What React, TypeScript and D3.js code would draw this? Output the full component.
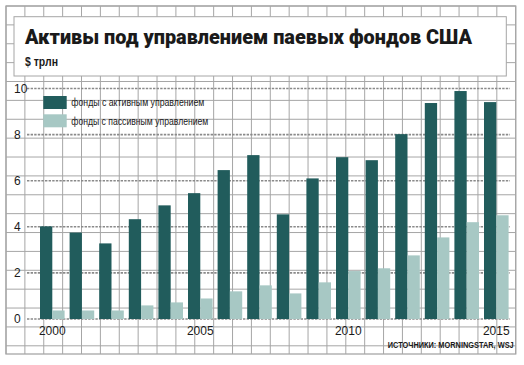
import React, { useEffect, useRef } from "react";
import * as d3 from "d3";

const years = ["2000", "2001", "2002", "2003", "2004", "2005", "2006", "2007", "2008", "2009", "2010", "2011", "2012", "2013", "2014", "2015"];
const activeValues = [4.02, 3.75, 3.28, 4.33, 4.93, 5.46, 6.46, 7.11, 4.54, 6.1, 7.02, 6.89, 8.02, 9.37, 9.89, 9.41];
const passiveValues = [0.37, 0.37, 0.37, 0.59, 0.72, 0.89, 1.2, 1.46, 1.11, 1.59, 2.08, 2.2, 2.76, 3.54, 4.2, 4.5];
const seriesNames = ["фонды с активным управлением", "фонды с пассивным управлением"];
const yTicks = [0, 2, 4, 6, 8, 10];
const xTicks = ["2000", "2005", "2010", "2015"];

const W = 524;
const H = 365;
const activeColor = "#215c5c";
const passiveColor = "#a7c8c4";
const gridColor = "#a6a6a6";
const narrow = "'Liberation Sans Narrow', 'Arial Narrow', 'Liberation Sans', sans-serif";

export default function App() {
  const ref = useRef<SVGSVGElement>(null);

  useEffect(() => {
    const svg = d3.select(ref.current);
    svg.selectAll("*").remove();

    // graph paper background
    const frame = { x0: 6, y0: 6, x1: 515.7, y1: 354 };
    const cell = (frame.x1 - frame.x0) / 27;
    const bg = svg.append("g").attr("stroke", gridColor).attr("stroke-width", 1);
    bg.selectAll("line.v")
      .data(d3.range(0, 28))
      .join("line")
      .attr("class", "v")
      .attr("x1", (k) => frame.x0 + k * cell)
      .attr("x2", (k) => frame.x0 + k * cell)
      .attr("y1", frame.y0)
      .attr("y2", frame.y1);
    bg.selectAll("line.h")
      .data(d3.range(0, 19))
      .join("line")
      .attr("class", "h")
      .attr("x1", frame.x0)
      .attr("x2", frame.x1)
      .attr("y1", (k) => frame.y0 + k * cell)
      .attr("y2", (k) => frame.y0 + k * cell);
    bg.append("rect")
      .attr("x", frame.x0)
      .attr("y", frame.y0)
      .attr("width", frame.x1 - frame.x0)
      .attr("height", frame.y1 - frame.y0)
      .attr("fill", "none")
      .attr("stroke-width", 1.3);

    // title box
    svg.append("rect")
      .attr("x", 14)
      .attr("y", 16.7)
      .attr("width", 492.3)
      .attr("height", 59.3)
      .attr("fill", "#fff")
      .attr("stroke", gridColor);
    svg.append("text")
      .attr("x", 25)
      .attr("y", 44)
      .attr("font-family", "Roboto, 'Liberation Sans', sans-serif")
      .attr("font-weight", 900)
      .attr("font-size", 21)
      .attr("textLength", 447)
      .attr("lengthAdjust", "spacingAndGlyphs")
      .attr("fill", "#1a1a1a")
      .text("Активы под управлением паевых фондов США");
    svg.append("text")
      .attr("x", 25)
      .attr("y", 65.5)
      .attr("font-family", narrow)
      .attr("font-weight", "bold")
      .attr("font-size", 12)
      .attr("textLength", 33)
      .attr("lengthAdjust", "spacingAndGlyphs")
      .attr("fill", "#1a1a1a")
      .text("$ трлн");

    // scales
    const y = d3.scaleLinear().domain([0, 10]).range([319, 88.5]);
    const x0 = d3.scaleBand<string>().domain(years).range([40, 508.6]).paddingInner(0.169).paddingOuter(0);
    const x1 = d3.scaleBand<string>().domain(["active", "passive"]).range([0, x0.bandwidth()]);

    // dotted value lines
    svg.append("g")
      .selectAll("line")
      .data(yTicks)
      .join("line")
      .attr("x1", 27)
      .attr("x2", 510)
      .attr("y1", (d) => y(d))
      .attr("y2", (d) => y(d))
      .attr("stroke", "#8a8a8a")
      .attr("stroke-width", 1.6)
      .attr("stroke-dasharray", "2.4,1.2");
    svg.append("g")
      .selectAll("text")
      .data(yTicks)
      .join("text")
      .attr("x", 14)
      .attr("y", (d) => y(d) + 4)
      .attr("font-family", narrow)
      .attr("font-size", 12)
      .attr("fill", "#1a1a1a")
      .text((d) => d);

    // bars
    const groups = svg.append("g")
      .selectAll("g")
      .data(years)
      .join("g")
      .attr("transform", (d) => `translate(${x0(d)},0)`);
    groups.append("rect")
      .attr("x", x1("active")!)
      .attr("width", x1.bandwidth())
      .attr("y", (_, i) => y(activeValues[i]))
      .attr("height", (_, i) => y(0) - y(activeValues[i]))
      .attr("fill", activeColor);
    groups.append("rect")
      .attr("x", x1("passive")!)
      .attr("width", x1.bandwidth())
      .attr("y", (_, i) => y(passiveValues[i]))
      .attr("height", (_, i) => y(0) - y(passiveValues[i]))
      .attr("fill", passiveColor);

    // x labels
    svg.append("g")
      .selectAll("text")
      .data(xTicks)
      .join("text")
      .attr("x", (d) => x0(d)! + x0.bandwidth() / 2)
      .attr("y", 334.5)
      .attr("text-anchor", "middle")
      .attr("font-family", narrow)
      .attr("font-size", 12)
      .attr("fill", "#1a1a1a")
      .text((d) => d);

    // legend
    const legend = svg.append("g")
      .selectAll("g")
      .data(seriesNames)
      .join("g")
      .attr("transform", (_, i) => `translate(43.3,${96 + i * 18.3})`);
    legend.append("rect")
      .attr("width", 23.4)
      .attr("height", 13)
      .attr("fill", (_, i) => (i === 0 ? activeColor : passiveColor));
    legend.append("text")
      .attr("x", 28)
      .attr("y", 10.3)
      .attr("font-family", narrow)
      .attr("font-size", 11)
      .attr("fill", "#1a1a1a")
      .attr("textLength", (_, i) => (i === 0 ? 133 : 137))
      .attr("lengthAdjust", "spacingAndGlyphs")
      .text((d) => d);

    // source
    svg.append("text")
      .attr("x", 387.7)
      .attr("y", 347.7)
      .attr("font-family", narrow)
      .attr("font-weight", "bold")
      .attr("font-size", 9)
      .attr("textLength", 126)
      .attr("lengthAdjust", "spacingAndGlyphs")
      .attr("fill", "#1a1a1a")
      .text("ИСТОЧНИКИ: MORNINGSTAR, WSJ");
  }, []);

  return (
    <div style={{ position: "absolute", left: 0, top: 0 }}>
      <svg ref={ref} width={W} height={H} style={{ display: "block", background: "#fff" }} />
    </div>
  );
}
